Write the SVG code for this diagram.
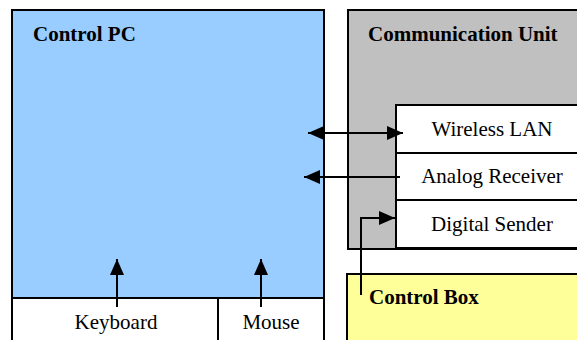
<svg xmlns="http://www.w3.org/2000/svg" width="577" height="340" viewBox="0 0 577 340">
<style>
.box{stroke:#000;stroke-width:2}
.title{font-family:"Liberation Serif","Times New Roman",serif;font-weight:bold;font-size:21px;fill:#000}
.lbl{font-family:"Liberation Serif","Times New Roman",serif;font-size:21px;fill:#000;text-anchor:middle}
.conn{stroke:#000;stroke-width:2;fill:none}
</style>
<defs>
<marker id="ah" viewBox="0 0 16 14" refX="16" refY="7" markerWidth="16" markerHeight="14" markerUnits="userSpaceOnUse" orient="auto-start-reverse">
<path d="M0,0 L16,7 L0,14 Z" fill="#000"/>
</marker>
</defs>
<rect width="577" height="340" fill="#fff"/>
<g id="control-pc">
<rect class="box" x="12" y="10" width="312" height="340" fill="#99CCFF"/>
<text class="title" x="33" y="41">Control PC</text>
</g>
<g id="keyboard">
<rect class="box" x="12" y="298" width="206" height="52" fill="#fff"/>
<text class="lbl" x="116" y="329">Keyboard</text>
</g>
<g id="mouse">
<rect class="box" x="218" y="298" width="106" height="52" fill="#fff"/>
<text class="lbl" x="271" y="329">Mouse</text>
</g>
<g id="communication-unit">
<rect class="box" x="348" y="10" width="240" height="239" fill="#C0C0C0"/>
<text class="title" x="368" y="41">Communication Unit</text>
</g>
<g id="wireless-lan">
<rect class="box" x="396" y="105" width="192" height="48" fill="#fff"/>
<text class="lbl" x="492" y="136">Wireless LAN</text>
</g>
<g id="analog-receiver">
<rect class="box" x="396" y="153" width="192" height="47" fill="#fff"/>
<text class="lbl" x="492" y="183">Analog Receiver</text>
</g>
<g id="digital-sender">
<rect class="box" x="396" y="200" width="192" height="48" fill="#fff"/>
<text class="lbl" x="492" y="231">Digital Sender</text>
</g>
<g id="control-box">
<rect class="box" x="347" y="274" width="240" height="80" fill="#FFFF99"/>
<text class="title" x="369" y="304">Control Box</text>
</g>
<g id="connectors">
<line class="conn" x1="308" y1="133" x2="403" y2="133" marker-start="url(#ah)" marker-end="url(#ah)"/>
<line class="conn" x1="400" y1="177" x2="304" y2="177" marker-end="url(#ah)"/>
<path class="conn" d="M361,295 V218 H395" marker-end="url(#ah)"/>
<line class="conn" x1="117" y1="307" x2="117" y2="259" marker-end="url(#ah)"/>
<line class="conn" x1="261" y1="307" x2="261" y2="259" marker-end="url(#ah)"/>
</g>
</svg>
